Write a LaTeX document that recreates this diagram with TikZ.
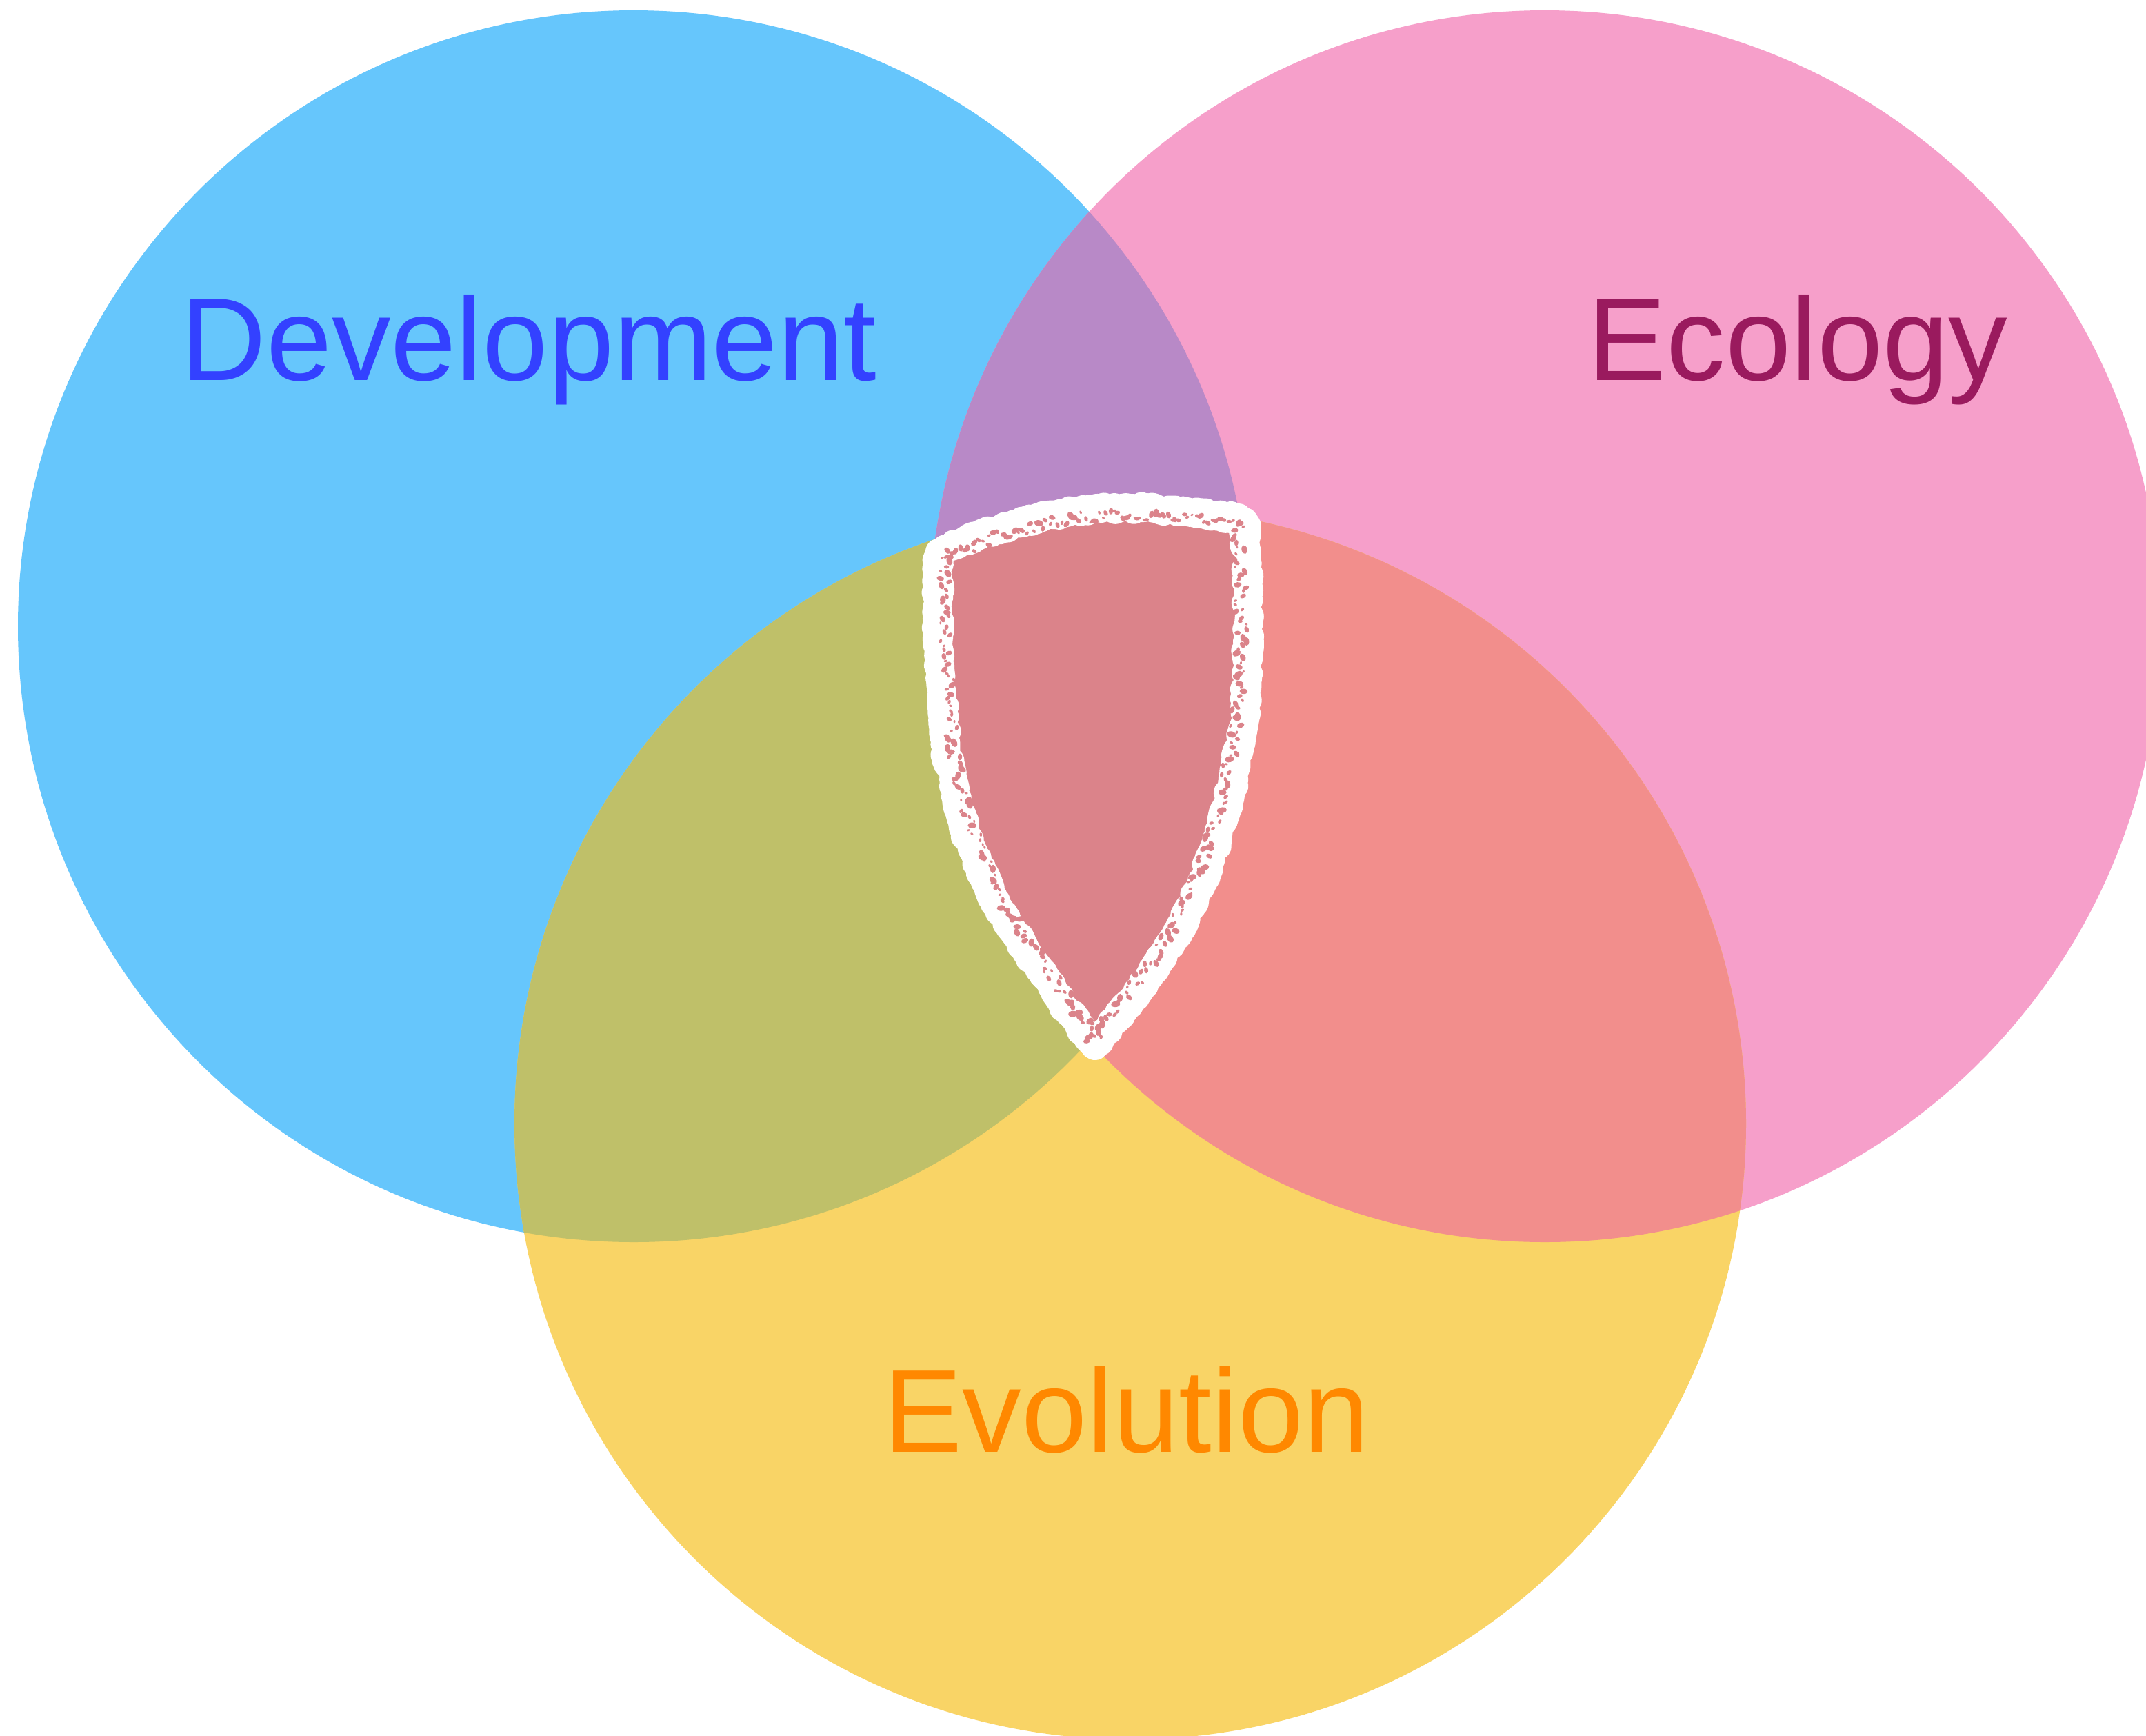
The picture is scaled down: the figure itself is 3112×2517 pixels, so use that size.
\documentclass[tikz,border=0pt]{standalone}
\usepackage{fontspec}
\setmainfont{Liberation Sans}
\usetikzlibrary{decorations.pathmorphing,decorations.markings}

% circle fills and their overlaps
\definecolor{devblue}{HTML}{66C6FC}
\definecolor{ecopink}{HTML}{F69FCA}
\definecolor{evoyellow}{HTML}{F9D466}
\definecolor{devEco}{HTML}{B889C7}
\definecolor{devEvo}{HTML}{BFC069}
\definecolor{ecoEvo}{HTML}{F28E8C}
\definecolor{allThree}{HTML}{DB838A}
% label colours
\definecolor{devText}{HTML}{3341FF}
\definecolor{ecoText}{HTML}{9A1A5E}
\definecolor{evoText}{HTML}{FF8800}

\begin{document}
\begin{tikzpicture}[x=0.5pt,y=-0.5pt,
  setname/.style={inner sep=0pt, anchor=base west, font=\fontsize{85.6}{100}\selectfont},
  chalk/.style={white, line join=round, line cap=round, decorate,
    decoration={random steps, segment length=3.5pt, amplitude=2.6pt}},
]
\def\devcircle{(919,908) circle (893)}
\def\ecocircle{(2240,908) circle (893)}
\def\evocircle{(1639,1629) circle (893)}
\def\shieldpath{(1361,800) .. controls (1430,770) and (1520,740) .. (1606,737)
  .. controls (1680,735) and (1750,742) .. (1805,755)
  .. controls (1810,830) and (1811,900) .. (1809,967)
  .. controls (1806,1080) and (1775,1210) .. (1729,1311)
  .. controls (1685,1405) and (1620,1470) .. (1588,1518)
  .. controls (1550,1468) and (1480,1370) .. (1445,1311)
  .. controls (1410,1240) and (1375,1150) .. (1369,1053)
  .. controls (1362,960) and (1358,880) .. (1361,800) -- cycle}

\useasboundingbox (0,0) rectangle (3112,2517);
\fill[white] (0,0) rectangle (3112,2517);
\clip (0,0) rectangle (3112,2517);

% the three sets
\fill[devblue] \devcircle;
\fill[ecopink] \ecocircle;
\fill[evoyellow] \evocircle;
\begin{scope}
  \clip \devcircle;
  \fill[devEco] \ecocircle;
  \fill[devEvo] \evocircle;
\end{scope}
\begin{scope}
  \clip \ecocircle;
  \fill[ecoEvo] \evocircle;
\end{scope}
\begin{scope}
  \clip \devcircle;
  \clip \ecocircle;
  \fill[allThree] \evocircle;
\end{scope}

% chalk shield round the common part
\pgfmathsetseed{11}
\draw[chalk, line width=19pt] \shieldpath;
\pgfmathsetseed{23}
\draw[chalk, line width=17.5pt] \shieldpath;
\pgfmathsetseed{37}
\draw[chalk, line width=18pt] \shieldpath;
\pgfmathsetseed{5}
\path[decorate, decoration={markings,
  mark=between positions 0 and 1 step 3pt with {
    \pgfmathsetmacro\hy{-1-8.5*rnd}
    \pgfmathsetmacro\hx{2*rnd-1}
    \pgfmathsetmacro\hr{0.7+1.5*rnd}
    \pgfmathsetmacro\ha{180*rnd}
    \fill[allThree, rotate around={\ha:(\hx pt,\hy pt)}]
      (\hx pt,\hy pt) ellipse[x radius=1.5*\hr pt, y radius=\hr pt];
  }}] \shieldpath;

% set names
\node[setname, text=devText] (dev) at (262,551) {Development};
\node[setname, text=ecoText] (eco) at (2302,551) {Ecology};
\node[setname, text=evoText] (evo) at (1281,2105) {Evolution};
\end{tikzpicture}
\end{document}
